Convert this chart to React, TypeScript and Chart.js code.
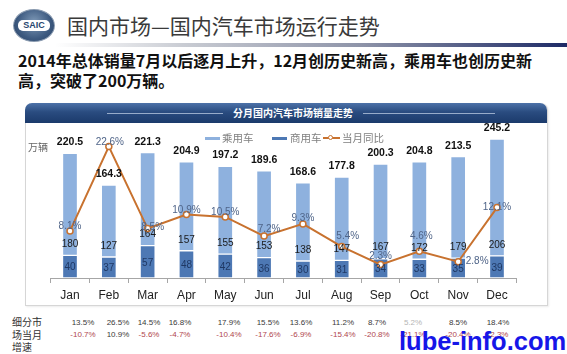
import React, { useEffect, useRef } from "react";
import { Chart, registerables } from "chart.js";

Chart.register(...registerables);

const months = ["Jan", "Feb", "Mar", "Apr", "May", "Jun", "Jul", "Aug", "Sep", "Oct", "Nov", "Dec"];
const totals = [220.5, 164.3, 221.3, 204.9, 197.2, 189.6, 168.6, 177.8, 200.3, 204.8, 213.5, 245.2];
const passenger = [180, 127, 164, 157, 155, 153, 138, 147, 167, 172, 179, 206];
const commercial = [40, 37, 57, 48, 42, 36, 30, 31, 34, 33, 35, 39];
const yoyGrowth = [8.1, 22.6, 8.5, 10.9, 10.5, 7.2, 9.3, 5.4, 2.3, 4.6, 2.8, 12.1];
const segmentRow1 = ["13.5%", "26.5%", "14.5%", "16.8%", "17.9%", "15.5%", "13.6%", "11.2%", "8.7%", "5.2%", "8.5%", "18.4%"];
const segmentRow2 = ["-10.7%", "10.9%", "-5.6%", "-4.7%", "-10.4%", "-17.6%", "-6.9%", "-15.4%", "-20.8%", "-21.1%", "-20.4%", "-2.3%"];

const LIGHT = "#8EB1DE";
const DARK = "#4D78B4";
const ORANGE = "#C8722F";
const CJK = '"Noto Sans CJK SC", "Noto Sans", sans-serif';
const LAT = '"Liberation Sans", Arial, sans-serif';

// label offsets for the growth labels (relative to each point)
const growthLabelOffset: [number, number][] = [
  [0, -5], [1, -4], [5, -1], [0, -4], [0, -5], [5, -7],
  [0, -6], [6, -10], [0, -8], [2, -15], [19, 0], [0, 0],
];
const tableColX = [83, 118, 149, 180, 229, 268, 301, 343, 377, 413, 458, 498];

const labelPlugin = {
  id: "customLabels",
  afterDatasetsDraw(chart: any) {
    const ctx = chart.ctx as CanvasRenderingContext2D;
    const mC = chart.getDatasetMeta(0);
    const mP = chart.getDatasetMeta(1);
    const mL = chart.getDatasetMeta(2);
    ctx.save();
    ctx.textAlign = "center";
    ctx.textBaseline = "middle";
    mC.data.forEach((el: any, i: number) => {
      const p = el.getProps(["x", "y", "base"], true);
      ctx.font = `10px ${LAT}`;
      ctx.fillStyle = "#1F3864";
      ctx.fillText(String(commercial[i]), p.x, (p.y + p.base) / 2 + 1);
    });
    mP.data.forEach((el: any, i: number) => {
      const p = el.getProps(["x", "y", "base"], true);
      ctx.font = `10px ${LAT}`;
      ctx.fillStyle = "#1a1a1a";
      ctx.fillText(String(passenger[i]), p.x, p.base - 11);
      ctx.font = `bold 10.5px ${LAT}`;
      ctx.fillStyle = "#111";
      ctx.fillText(totals[i].toFixed(1), p.x, p.y - 11);
    });
    mL.data.forEach((pt: any, i: number) => {
      const p = pt.getProps(["x", "y"], true);
      const [dx, dy] = growthLabelOffset[i];
      ctx.font = `10px ${LAT}`;
      ctx.fillStyle = "#4F6488";
      ctx.fillText(yoyGrowth[i].toFixed(1) + "%", p.x + dx, p.y + dy);
    });
    ctx.restore();
  },
};

function SalesChart() {
  const ref = useRef<HTMLCanvasElement | null>(null);
  useEffect(() => {
    if (!ref.current) return;
    const chart = new Chart(ref.current, {
      type: "bar",
      data: {
        labels: months,
        datasets: [
          {
            type: "bar",
            label: "商用车",
            data: commercial,
            backgroundColor: DARK,
            borderColor: "rgba(255,255,255,0.85)",
            borderWidth: 1,
            borderSkipped: false,
            barThickness: 15,
            order: 1,
            yAxisID: "y",
          },
          {
            type: "bar",
            label: "乘用车",
            data: passenger,
            backgroundColor: LIGHT,
            borderColor: "rgba(255,255,255,0.85)",
            borderWidth: 1,
            borderSkipped: false,
            barThickness: 15,
            order: 1,
            yAxisID: "y",
          },
          {
            type: "line",
            label: "当月同比",
            data: yoyGrowth,
            borderColor: ORANGE,
            borderWidth: 2,
            pointRadius: 3,
            pointBackgroundColor: "#fff",
            pointBorderColor: ORANGE,
            pointBorderWidth: 1.5,
            tension: 0,
            order: 0,
            yAxisID: "y1",
          } as any,
        ],
      },
      options: {
        animation: false,
        responsive: false,
        devicePixelRatio: 1,
        layout: { padding: { left: 25.6, right: 30.6, top: 13.25, bottom: 0 } },
        plugins: { legend: { display: false }, tooltip: { enabled: false } },
        scales: {
          x: {
            stacked: true,
            offset: true,
            grid: { display: true, drawOnChartArea: false, drawTicks: true, tickLength: 5, color: "#A6A6A6", offset: true },
            border: { display: true, color: "#A6A6A6" },
            ticks: { color: "#222", font: { size: 12, family: LAT }, padding: 5 },
            afterFit: (scale: any) => {
              scale.height = 28;
            },
          },
          y: { stacked: true, display: false, min: 0, max: 250 },
          y1: { display: false, min: 0, max: 24.37 },
        },
      },
      plugins: [labelPlugin],
    });
    return () => chart.destroy();
  }, []);
  return <canvas ref={ref} width={522} height={183} style={{ position: "absolute", left: 25, top: 123, width: 522, height: 183 }} />;
}

export default function App() {
  useEffect(() => {
    document.body.style.margin = "0";
  }, []);
  const abs = (s: React.CSSProperties): React.CSSProperties => ({ position: "absolute", ...s });
  return (
    <div style={{ position: "relative", width: 567, height: 354, overflow: "hidden", background: "#fff", fontFamily: CJK }}>
      {/* logo */}
      <div style={abs({ left: 13, top: 9, width: 40, height: 31, borderRadius: "50%", background: "radial-gradient(circle at 50% 40%, #7f9ab8 0%, #3d5a80 60%, #2a4266 100%)", border: "1px solid #8a9bb0" })}>
        <div style={abs({ left: 4, top: 10, width: 32, height: 11, borderRadius: 5, background: "#fff", color: "#27456e", fontFamily: LAT, fontWeight: 700, fontSize: 9, lineHeight: "11px", textAlign: "center" })}>SAIC</div>
      </div>
      {/* title */}
      <div style={abs({ left: 67, top: 10, fontSize: 21, lineHeight: "30px", color: "#3a3a3a", whiteSpace: "nowrap" })}>国内市场—国内汽车市场运行走势</div>
      <div style={abs({ left: 55, top: 43, width: 512, height: 4, background: "linear-gradient(to right, rgba(255,255,255,0) 0%, #c9ccd3 25%, #8d93a8 60%, #1d2a66 100%)" })} />
      {/* subtitle */}
      <div style={abs({ left: 18, top: 50, width: 540, fontSize: 16, fontWeight: 700, lineHeight: "20px", color: "#111" })}>
        2014年总体销量7月以后逐月上升，12月创历史新高，乘用车也创历史新
        <br />高，突破了200万辆。
      </div>
      {/* panel */}
      <div style={abs({ left: 25, top: 103, width: 521, height: 202, border: "1px solid #d6d6d6", borderTop: "none", borderRadius: "7px 7px 0 0", boxShadow: "1px 1px 2px rgba(0,0,0,0.08)" })} />
      <div style={abs({ left: 25, top: 103, width: 522, height: 20, borderRadius: "7px 7px 0 0", background: "linear-gradient(#4d72a8 0%, #2a4c80 45%, #1b3a6b 100%)" })} />
      <div style={abs({ left: 107, top: 113, width: 116, height: 1, background: "rgba(190,205,228,0.75)" })} />
      <div style={abs({ left: 363, top: 113, width: 132, height: 1, background: "rgba(190,205,228,0.75)" })} />
      <div style={abs({ left: 233, top: 105, width: 120, textAlign: "center", fontSize: 10, fontWeight: 700, lineHeight: "16px", color: "#fff" })}>分月国内汽车市场销量走势</div>
      <SalesChart />
      {/* unit & legend */}
      <div style={abs({ left: 28, top: 140, fontSize: 10, lineHeight: "14px", color: "#666" })}>万辆</div>
      <div style={abs({ left: 205, top: 137, width: 15, height: 3, background: LIGHT })} />
      <div style={abs({ left: 222, top: 131, fontSize: 10.5, lineHeight: "14px", color: "#7f7f7f" })}>乘用车</div>
      <div style={abs({ left: 272, top: 137, width: 15, height: 3, background: DARK })} />
      <div style={abs({ left: 290, top: 131, fontSize: 10.5, lineHeight: "14px", color: "#7f7f7f" })}>商用车</div>
      <div style={abs({ left: 323, top: 137, width: 17, height: 2, background: ORANGE })} />
      <div style={abs({ left: 328, top: 135, width: 5, height: 5, borderRadius: "50%", border: `1.5px solid ${ORANGE}`, background: "#fff", boxSizing: "border-box" })} />
      <div style={abs({ left: 342, top: 131, fontSize: 10.5, lineHeight: "14px", color: "#7f7f7f" })}>当月同比</div>
      {/* table */}
      <div style={abs({ left: 12, top: 316, fontSize: 10, lineHeight: "12.5px", color: "#333" })}>
        细分市<br />场当月<br />增速
      </div>
      {segmentRow1.map((v, i) => (
        <div key={"a" + i} style={abs({ left: tableColX[i] - 20, top: 318, width: 40, textAlign: "center", fontFamily: LAT, fontSize: 8, lineHeight: "10px", color: i === 9 ? "#b5b5b5" : "#3a3a3a" })}>{v}</div>
      ))}
      {segmentRow2.map((v, i) => (
        <div key={"b" + i} style={abs({ left: tableColX[i] - 20, top: 330, width: 40, textAlign: "center", fontFamily: LAT, fontSize: 8, lineHeight: "10px", color: v.startsWith("-") ? "#B0464E" : "#3a3a3a" })}>{v}</div>
      ))}
      {/* watermark */}
      <div style={abs({ left: 399, top: 327, fontFamily: LAT, fontWeight: 700, fontSize: 25.5, lineHeight: "29px", color: "#1616E8", whiteSpace: "nowrap" })}>lube-info.com</div>
    </div>
  );
}
